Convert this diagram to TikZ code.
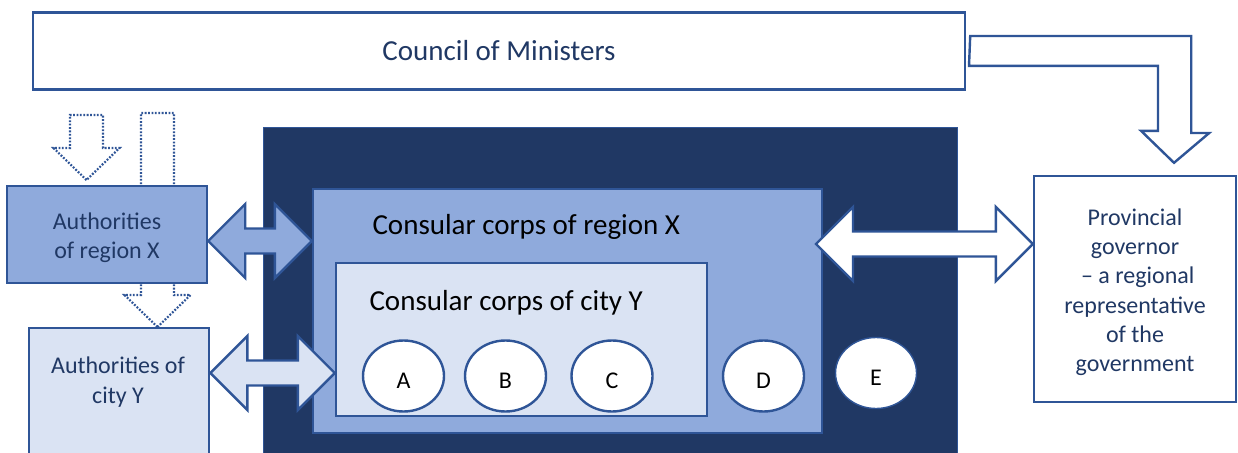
\documentclass[tikz,border=0pt]{standalone}
\usepackage{fontspec}
\setmainfont{Carlito}
\usetikzlibrary{shapes.geometric,calc,backgrounds}

\definecolor{corpsnavy}{RGB}{32,56,100}
\definecolor{corpsmid}{RGB}{143,170,220}
\definecolor{corpspale}{RGB}{218,227,243}
\definecolor{corpsedge}{RGB}{47,85,151}

% block arrow with a head at both ends, from tip #2 to tip #3
\newcommand{\twowayarrow}[3]{%
  \draw[twoway,#1] (#2) -- ++(37,-37) -- ++(0,24.5) -- ($(#3)+(-37,-12.5)$)
    -- ++(0,-24.5) -- (#3) -- ++(-37,37) -- ++(0,-24.5)
    -- ($(#2)+(37,12.5)$) -- ++(0,24.5) -- cycle;}

\begin{document}
\begin{tikzpicture}[x=1pt,y=-1pt,
    panel/.style={draw=corpsedge,line width=2.4pt,inner sep=0pt,align=center,text=corpsnavy},
    member/.style={ellipse,draw=corpsedge,line width=2.4pt,fill=white,inner sep=0pt,
      minimum width=81pt,minimum height=71pt,text height=24.5pt,
      font=\fontsize{24}{29.3}\selectfont},
    hollow/.style={draw=corpsedge,line width=2.4pt,fill=white},
    dotarrow/.style={draw=corpsedge,line width=2.2pt,dash pattern=on 1.8pt off 1.6pt},
    twoway/.style={draw=corpsedge,line width=2.4pt},
    big/.style={font=\fontsize{29}{35}\selectfont},
    mid/.style={font=\fontsize{24}{29.3}\selectfont}]
  \useasboundingbox (0,0) rectangle (1238,452);

  \node[panel,big,minimum width=932pt,minimum height=77pt] (council) at (499,51)
    {Council of Ministers};
  \node[panel,fill=corpsnavy,line width=1pt,minimum width=694pt,minimum height=332pt,
    anchor=north west] (frame) at (263,127) {};
  \node[panel,fill=corpsmid,minimum width=509pt,minimum height=244pt] (corpsX) at (567.5,311) {};
  \node[panel,fill=corpspale,minimum width=371pt,minimum height=153pt] (cityY) at (521.5,339.5) {};
  \node[big,anchor=base west] (corpsXlbl) at (369,234) {Consular corps of region X};
  \node[big,anchor=base west] (cityYlbl) at (366,310) {Consular corps of city Y};
  \foreach \name/\x in {A/403.5,B/505.5,C/612,D/763.5}
    \node[member] (\name) at (\x,376) {\name};
  \node[member,line width=1.4pt] (E) at (876,373) {E};

  \node[panel,mid,fill=corpsmid,minimum width=200pt,minimum height=97pt] (authX) at (107,234.5)
    {\rule{0pt}{23pt}Authorities\\of region X};
  \node[panel,fill=corpspale,minimum width=180pt,minimum height=132pt,anchor=north west]
    (authY) at (28,327) {};
  \node[mid,text=corpsnavy,align=center] (authYlbl) at (118,382) {Authorities of\\city Y};
  \node[panel,mid,minimum width=202pt,minimum height=226pt] (gov) at (1135,289)
    {\rule{0pt}{23pt}Provincial\\governor\\\ – a regional\\representative\\of the\\government};

  % dotted arrows pass behind the authority boxes
  \begin{scope}[on background layer]
    \foreach \tip/\len in {{86.5,180}/33,{157.5,327}/182}
      \draw[dotarrow] (\tip) -- ++(-33,-32) -- ++(16.5,0) -- ++(0,-\len) -- ++(33,0)
        -- ++(0,\len) -- ++(16.5,0) -- cycle;
  \end{scope}

  \draw[hollow] ($(council.east)+(4,-15)$) -- ++(221,0) -- ++(0,97) -- ++(18,0)
    -- ($(gov.north -| 1174,0)+(0,-12)$) -- ++(-33,-32) -- ++(17,0) -- ++(0,-65)
    -- ++(-189,0) -- cycle;

  \twowayarrow{fill=corpsmid}{authX.east |- 0,241}{corpsX.west |- 0,241}
  \twowayarrow{fill=corpspale}{authY.east |- 0,373}{cityY.west |- 0,373}
  \twowayarrow{fill=white}{816,244}{gov.west |- 0,244}
\end{tikzpicture}
\end{document}
